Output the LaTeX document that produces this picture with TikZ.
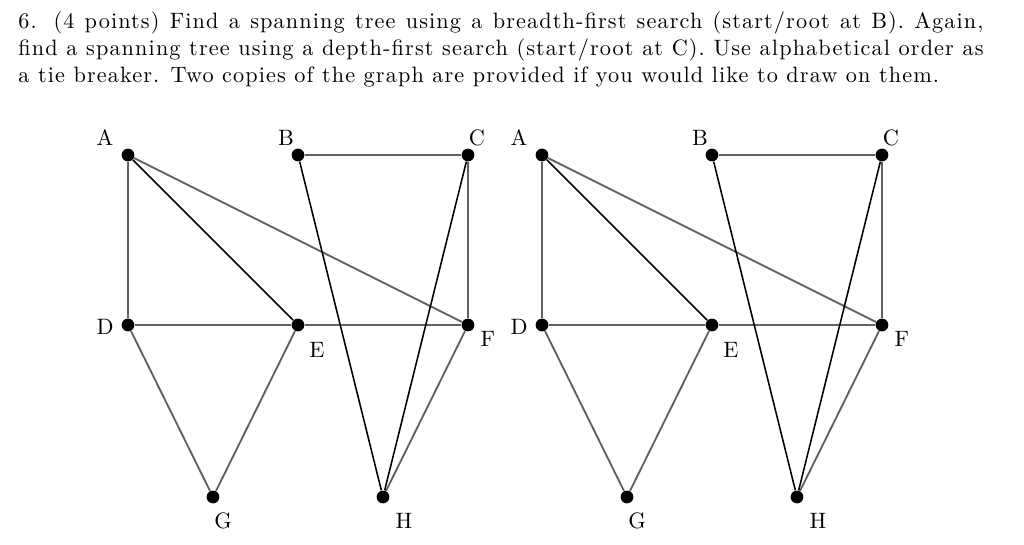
\documentclass[tikz,border=0pt]{standalone}
\usepackage{fontspec}
\usepackage{tikz}
\usetikzlibrary{positioning}
\newfontfamily\taskfont[LetterSpace=5]{lmroman10-regular.otf}
\tikzset{
  vtx/.style={circle, fill=black, inner sep=0pt, minimum size=6.2pt},
  lbl/.style={font=\fontsize{10.8}{12}\selectfont, inner sep=0pt},
  gedge/.style={draw=black!62, line width=0.9pt},
  bedge/.style={draw=black, line width=0.75pt}}

\begin{document}
\begin{tikzpicture}[x=0.4854pt,y=-0.4854pt]
\useasboundingbox (0,0) rectangle (1024,545);
\node[anchor=north west, inner sep=0pt, text width=468.5pt, align=justify,
  font=\taskfont\fontsize{10.8}{13.1}\selectfont] (task) at (18,11.5)
  {6. (4 points) Find a spanning tree using a breadth-first search (start/root at B). Again,\linebreak
   find a spanning tree using a depth-first search (start/root at C). Use alphabetical order as\linebreak
   a tie breaker. Two copies of the graph are provided if you would like to draw on them.};
% two copies of the same graph, left (l) and right (r)
\foreach \p/\dx in {l/0, r/414} {
  \begin{scope}[shift={(\dx,0)}]
  \node[vtx] (\p A) at (128,155) {};
  \node[vtx] (\p B) at (298,155) {};
  \node[vtx] (\p C) at (468,155) {};
  \node[vtx] (\p D) at (128,325) {};
  \node[vtx] (\p E) at (298,325) {};
  \node[vtx] (\p F) at (468,325) {};
  \node[vtx] (\p G) at (213,497) {};
  \node[vtx] (\p H) at (383,497) {};
  \draw[gedge] (\p A) -- (\p D) (\p A) -- (\p F) (\p B) -- (\p C) (\p C) -- (\p F)
    (\p D) -- (\p E) (\p E) -- (\p F) (\p D) -- (\p G) (\p E) -- (\p G) (\p F) -- (\p H);
  \draw[bedge] (\p A) -- (\p E) (\p B) -- (\p H) (\p C) -- (\p H);
  % vertex names
  \node[lbl] (\p lA) at ([shift={(-23,-17)}]\p A) {A};
  \node[lbl] (\p lB) at ([shift={(-12,-17)}]\p B) {B};
  \node[lbl] (\p lC) at ([shift={(9,-17)}]\p C) {C};
  \node[lbl] (\p lD) at ([shift={(-23,2)}]\p D) {D};
  \node[lbl] (\p lE) at ([shift={(19,25)}]\p E) {E};
  \node[lbl] (\p lF) at ([shift={(20,14)}]\p F) {F};
  \node[lbl] (\p lG) at ([shift={(10,24)}]\p G) {G};
  \node[lbl] (\p lH) at ([shift={(21,24)}]\p H) {H};
  \end{scope}
}
\end{tikzpicture}
\end{document}
